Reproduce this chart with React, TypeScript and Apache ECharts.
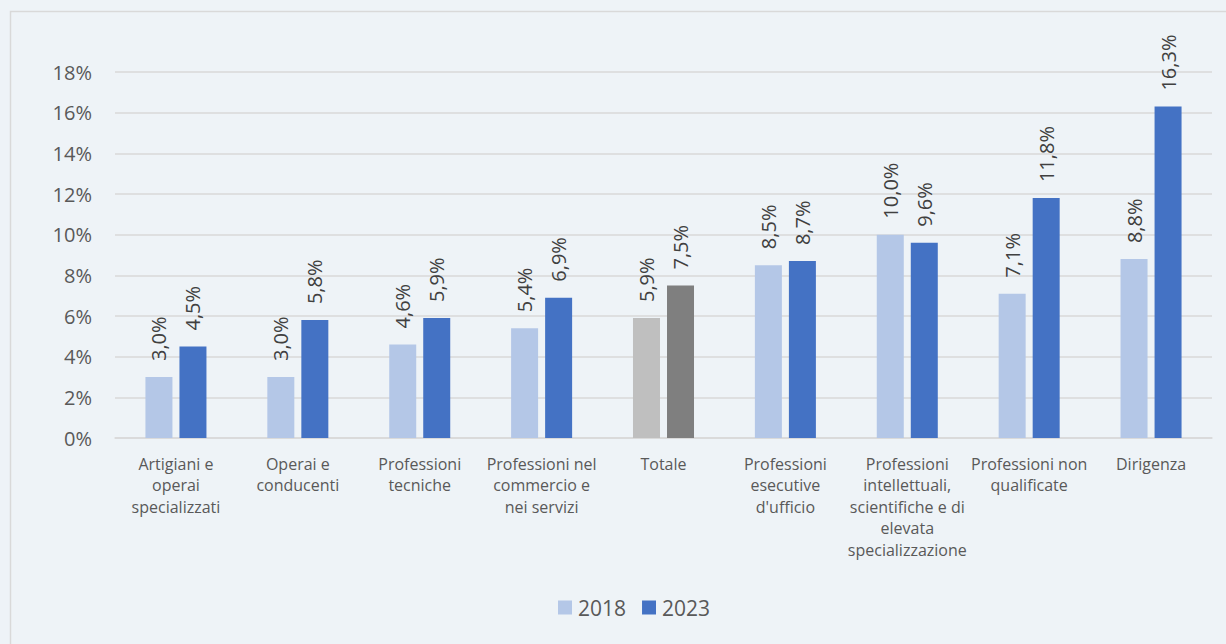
import React, { useEffect, useRef } from "react";
import * as echarts from "echarts";

const categories = [
  "Artigiani e\noperai\nspecializzati",
  "Operai e\nconducenti",
  "Professioni\ntecniche",
  "Professioni nel\ncommercio e\nnei servizi",
  "Totale",
  "Professioni\nesecutive\nd'ufficio",
  "Professioni\nintellettuali,\nscientifiche e di\nelevata\nspecializzazione",
  "Professioni non\nqualificate",
  "Dirigenza",
];
const values2018 = [3.0, 3.0, 4.6, 5.4, 5.9, 8.5, 10.0, 7.1, 8.8];
const values2023 = [4.5, 5.8, 5.9, 6.9, 7.5, 8.7, 9.6, 11.8, 16.3];
const totalIndex = 4;
const yTicks = [0, 2, 4, 6, 8, 10, 12, 14, 16, 18];

const FONT = "'Open Sans', 'Noto Sans', sans-serif";

export default function App() {
  const ref = useRef<HTMLDivElement>(null);
  useEffect(() => {
    document.body.style.margin = "0";
    const chart = echarts.init(ref.current!, undefined, { renderer: "svg" });
    const mk = (vals: number[], color: string, totColor: string) =>
      vals.map((v, i) => ({
        value: v,
        itemStyle: { color: i === totalIndex ? totColor : color },
      }));
    const label = {
      show: true,
      position: "top" as const,
      rotate: 90,
      align: "left" as const,
      verticalAlign: "middle" as const,
      distance: 16,
      fontFamily: FONT,
      fontSize: 20,
      color: "#404040",
      formatter: (p: any) => p.value.toFixed(1).replace(".", ",") + "%",
    };
    chart.setOption({
      animation: false,
      backgroundColor: "#eef3f7",
      graphic: [
        {
          type: "rect",
          shape: { x: 10.5, y: 11.5, width: 1240, height: 660 },
          style: { fill: "none", stroke: "#d9d9d9", lineWidth: 1.5 },
          silent: true,
        },
      ],
      grid: { left: 115, right: 14, top: 72, bottom: 206 },
      legend: {
        bottom: 21,
        left: 553,
        itemWidth: 14,
        itemHeight: 14,
        itemGap: 16,
        icon: "rect",
        textStyle: { fontFamily: FONT, fontSize: 21, color: "#595959", padding: [0, 0, 0, 1] },
        data: [
          { name: "2018", itemStyle: { color: "#b4c7e7" } },
          { name: "2023", itemStyle: { color: "#4472c4" } },
        ],
      },
      xAxis: {
        type: "category",
        data: categories,
        axisLine: { lineStyle: { color: "#d9d9d9", width: 1.5 } },
        axisTick: { show: false },
        axisLabel: {
          interval: 0,
          margin: 15,
          fontFamily: FONT,
          fontSize: 16,
          lineHeight: 21.5,
          color: "#595959",
        },
      },
      yAxis: {
        type: "value",
        min: 0,
        max: 18,
        interval: 2,
        axisLine: { show: false },
        axisTick: { show: false },
        splitLine: { lineStyle: { color: "#d9d9d9", width: 1.5 } },
        axisLabel: {
          margin: 23,
          fontFamily: FONT,
          fontSize: 20,
          color: "#595959",
          formatter: (v: number) => (yTicks.includes(v) ? v + "%" : ""),
        },
      },
      series: [
        {
          name: "2018",
          type: "bar",
          barWidth: 27,
          barGap: "26%",
          itemStyle: { color: "#b4c7e7" },
          data: mk(values2018, "#b4c7e7", "#bfbfbf"),
          label,
        },
        {
          name: "2023",
          type: "bar",
          barWidth: 27,
          itemStyle: { color: "#4472c4" },
          data: mk(values2023, "#4472c4", "#7f7f7f"),
          label,
        },
      ],
    });
    return () => chart.dispose();
  }, []);
  return <div ref={ref} style={{ width: 1226, height: 644 }} />;
}
